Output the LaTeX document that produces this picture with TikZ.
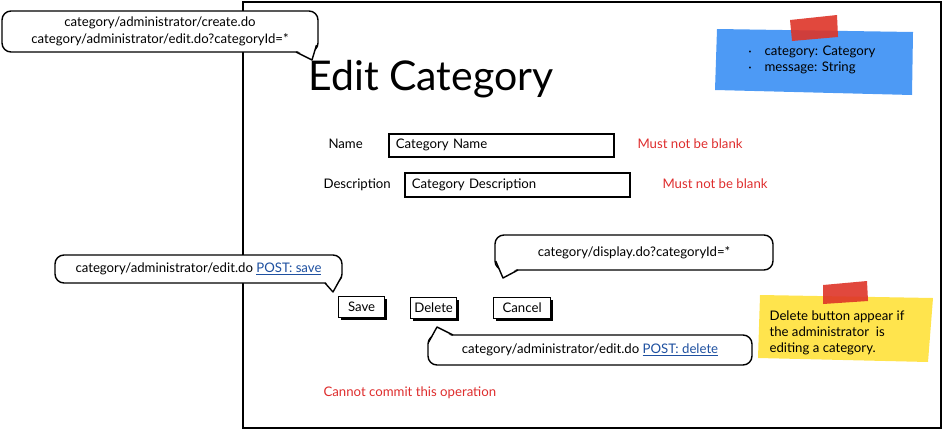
\documentclass[tikz,border=0pt]{standalone}
\usepackage{fontspec}
\setmainfont{Lato}
\usetikzlibrary{calc,shadows}
\definecolor{warnred}{RGB}{222,45,45}
\definecolor{linkblue}{RGB}{30,80,160}
\definecolor{noteblue}{RGB}{77,154,245}
\definecolor{noteyellow}{RGB}{255,228,77}
\definecolor{tapered}{RGB}{222,52,40}

\begin{document}
\begin{tikzpicture}[x=1pt,y=-1pt,
  every node/.style={font=\fontsize{13.2}{16.5}\selectfont},
  bubble/.style={draw,line width=1.4pt,rounded corners=9pt,fill=white,align=center,inner sep=0pt},
  tail/.style={line width=1.4pt,line join=round},
  field/.style={draw,line width=1.6pt,fill=white,drop shadow={shadow xshift=1pt,shadow yshift=-1pt,opacity=1,fill=black},align=left,inner xsep=7pt,inner ysep=0pt},
  button/.style={draw,line width=1.2pt,fill=white,drop shadow={shadow xshift=2.5pt,shadow yshift=-2.5pt,opacity=1,fill=black},inner sep=0pt},
  warn/.style={text=warnred}]
  \useasboundingbox (0,0) rectangle (944,431);

  % page frame and title
  \draw[line width=2pt] (243,1.5) rectangle (941,428);
  \node[anchor=base west,font=\fontsize{41}{44}\selectfont] (title) at (305,90) {Edit Category};

  % form
  \node[anchor=base west] (namelbl) at (325,148.5) {Name};
  \node[field,anchor=north west,minimum height=23pt,text width=211pt] (namebox) at (388,133) {Category Name};
  \node[warn,anchor=base west] (namemsg) at (634,148.5) {Must not be blank};
  \node[anchor=base west] (desclbl) at (320,188) {Description};
  \node[field,anchor=north west,minimum height=24pt,text width=211pt] (descbox) at (404,172) {Category Description};
  \node[warn,anchor=base west] (descmsg) at (659,188) {Must not be blank};

  \node[button,anchor=north west,minimum width=46pt,minimum height=21pt] (save) at (338,296) {Save};
  \node[button,anchor=north west,minimum width=46pt,minimum height=21pt] (delete) at (410,297) {Delete};
  \node[button,anchor=north west,minimum width=57pt,minimum height=21pt] (cancel) at (493,297) {Cancel};

  \node[warn,anchor=base west] (commitmsg) at (320,396.5) {Cannot commit this operation};

  % callouts
  \node[bubble,minimum width=316pt,minimum height=41pt] (urlbubble) at (160,31.5)
    {category/administrator/create.do\\category/administrator/edit.do?categoryId=*};
  \coordinate (urltip) at (312,60);
  \fill[white] (296,50) -- (urltip) -- (316.5,44) -- (306,44) -- cycle;
  \draw[tail] (296,52) -- (urltip) -- (316.5,45);

  \node[bubble,minimum width=287pt,minimum height=28pt] (savebubble) at (198.5,269)
    {category/administrator/edit.do {\color{linkblue}\underline{POST: save}}};
  \coordinate (savetip) at (333,292);
  \fill[white] (325,281) -- (savetip) -- (341,277) -- (330,276) -- cycle;
  \draw[tail] (325,283) -- (savetip) -- (341.3,277);

  \node[bubble,minimum width=278pt,minimum height=35pt] (cancelbubble) at (634,252.5)
    {category/display.do?categoryId=*};
  \coordinate (canceltip) at (503,278);
  \fill[white] (496.4,261) -- (canceltip) -- (518,268) -- (506,262) -- cycle;
  \draw[tail] (495.7,261) -- (canceltip) -- (518,270);

  \node[bubble,minimum width=324pt,minimum height=30pt] (deletebubble) at (590,350)
    {category/administrator/edit.do {\color{linkblue}\underline{POST: delete}}};
  \coordinate (deletetip) at (437,327);
  \fill[white] (429.5,342) -- (deletetip) -- (453,337) -- (440,342) -- cycle;
  \draw[tail] (428.7,342) -- (deletetip) -- (453,335);

  % notes
  \fill[noteblue] (717,29) -- (913,32) -- (912,95) -- (715,90) -- cycle;
  \fill[tapered,opacity=.9] (790,20) -- (837,15) -- (838,37) -- (792,41) -- cycle;
  \node[anchor=west,align=left,font=\fontsize{13.2}{16}\selectfont] (modelnote) at (745,60)
    {\makebox[16pt][l]{\raisebox{2.5pt}{\tiny\textbullet}}category: Category\\\makebox[16pt][l]{\raisebox{2.5pt}{\tiny\textbullet}}message: String};

  \fill[noteyellow] (760,295) -- (933,298) -- (928,362) -- (758,358) -- cycle;
  \fill[tapered,opacity=.9] (823,285) -- (867,281) -- (868,301) -- (823,304) -- cycle;
  \node[anchor=west,align=left,font=\fontsize{13.2}{16}\selectfont] (deletenote) at (766,333)
    {Delete button appear if\\the administrator~ is\\editing a category.};
\end{tikzpicture}
\end{document}
